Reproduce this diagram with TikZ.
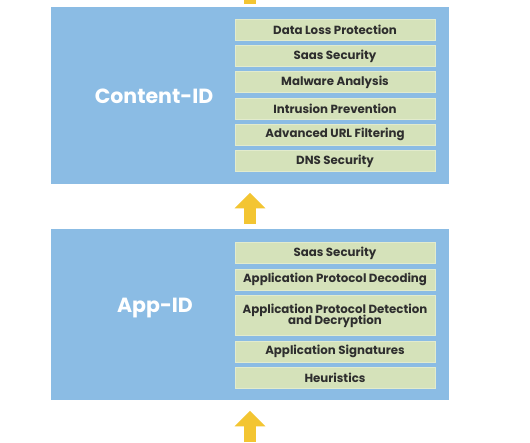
\documentclass[tikz,border=0pt]{standalone}
\usepackage{fontspec}
\setmainfont{Poppins}
\usetikzlibrary{arrows.meta}
\definecolor{boxblue}{HTML}{8BBCE4}
\definecolor{itemgreen}{HTML}{D5E2BA}
\definecolor{itemedge}{HTML}{E2EBCD}
\definecolor{arrowyellow}{HTML}{F3C532}
\definecolor{txt}{HTML}{2E2E2E}
\tikzset{
  layerbox/.style={fill=boxblue, draw=none, minimum width=398pt, inner sep=0pt},
  layerlabel/.style={text=white, font=\fontsize{20.5}{24}\selectfont\bfseries, inner sep=0pt},
  item/.style={fill=itemgreen, draw=itemedge, line width=0.8pt, minimum width=200pt, inner sep=0pt,
    text=txt, font=\fontsize{11.8}{13}\selectfont\bfseries, align=center},
  flow/.style={draw=arrowyellow, line width=12pt, -{Triangle[width=30pt,length=15.5pt]}},
  flowshaft/.style={draw=arrowyellow, line width=12pt}
}
\begin{document}
\begin{tikzpicture}[x=1pt,y=-1pt]
\useasboundingbox (0,0) rectangle (530,442);
\fill[white] (0,0) rectangle (530,442);
% layer boxes
\node[layerbox, minimum height=177.6pt] (content) at (250,95.5) {};
\node[layerbox, minimum height=170.7pt] (app) at (250,314.65) {};
\node[layerlabel] (contentlbl) at (154,96) {Content-ID};
\node[layerlabel] (applbl) at (155,308) {App-ID};
% content items
\node[item, minimum height=21pt] (c1) at (335,29.6) {Data Loss Protection};
\node[item, minimum height=21pt] (c2) at (335,56) {Saas Security};
\node[item, minimum height=21pt] (c3) at (335,82.3) {Malware Analysis};
\node[item, minimum height=21pt] (c4) at (335,108.5) {Intrusion Prevention};
\node[item, minimum height=21pt] (c5) at (335,134.6) {Advanced URL Filtering};
\node[item, minimum height=21pt] (c6) at (335,161.2) {DNS Security};
% app items
\node[item, minimum height=21pt] (a1) at (335,253.3) {Saas Security};
\node[item, minimum height=21pt] (a2) at (335,279.6) {Application Protocol Decoding};
\node[item, minimum height=40pt] (a3) at (335,315.7) {Application Protocol Detection\\[-1.5pt]and Decryption};
\node[item, minimum height=21pt] (a4) at (335,351.5) {Application Signatures};
\node[item, minimum height=21pt] (a5) at (335,378) {Heuristics};
% arrows
\coordinate (topend) at (250,0);
\coordinate (bottomstart) at (250,442);
\draw[flowshaft] (topend) -- ([yshift=3pt]content.north);
\draw[flow] ([yshift=5.3pt]app.north) -- ([yshift=-8.4pt]content.south);
\draw[flow] (bottomstart) -- ([yshift=-10.7pt]app.south);
\end{tikzpicture}
\end{document}
